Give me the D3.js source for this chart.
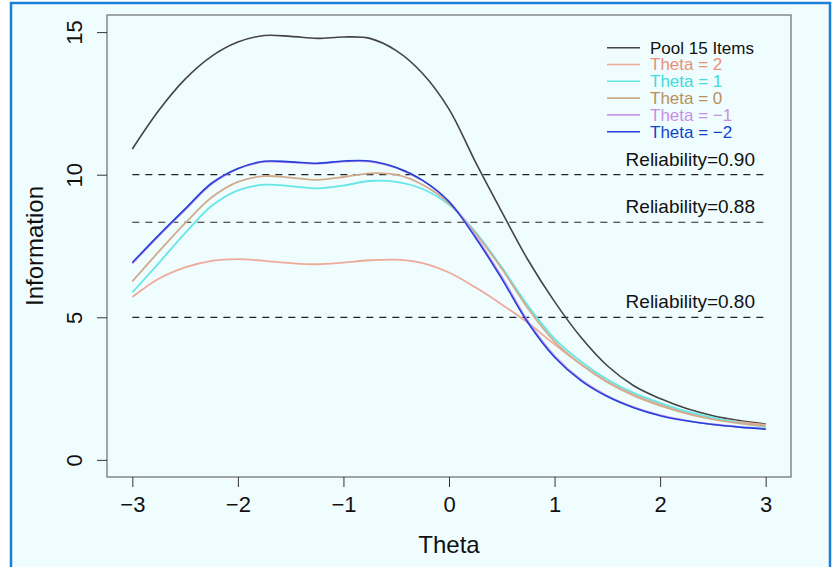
<!DOCTYPE html>
<html>
<head>
<meta charset="utf-8">
<script src="https://cdn.jsdelivr.net/npm/d3@7"></script>
<style>
  body { margin: 0; background: #fff; }
  svg { display: block; font-family: "Liberation Sans", Arial, sans-serif; }
</style>
</head>
<body>
<svg width="837" height="567"></svg>
<script>
var theta = [-3, -2.75, -2.5, -2.25, -2, -1.75, -1.5, -1.25, -1, -0.75, -0.5, -0.25,
             0, 0.25, 0.5, 0.75, 1, 1.25, 1.5, 1.75, 2, 2.25, 2.5, 2.75, 3];

var pool15 = [10.9, 12.25, 13.35, 14.15, 14.65, 14.88, 14.85, 14.78, 14.83, 14.78, 14.35, 13.55,
              12.3, 10.45, 8.7, 7.0, 5.55, 4.3, 3.3, 2.6, 2.15, 1.8, 1.55, 1.38, 1.26];
var thetaPos2 = [5.71, 6.35, 6.75, 6.98, 7.04, 6.98, 6.9, 6.86, 6.92, 7.0, 7.02, 6.9,
                 6.57, 6.05, 5.45, 4.8, 4.05, 3.35, 2.75, 2.3, 1.95, 1.66, 1.46, 1.33, 1.23];
var thetaPos1 = [5.87, 6.9, 7.95, 8.9, 9.45, 9.65, 9.6, 9.52, 9.62, 9.78, 9.75, 9.5,
                 8.95, 8.0, 6.75, 5.4, 4.25, 3.45, 2.82, 2.35, 2.0, 1.7, 1.48, 1.3, 1.15];
var theta0 = [6.26, 7.3, 8.3, 9.2, 9.75, 9.95, 9.9, 9.82, 9.92, 10.05, 10.0, 9.65,
              9.0, 7.95, 6.7, 5.3, 4.15, 3.35, 2.72, 2.25, 1.9, 1.62, 1.42, 1.28, 1.19];
var thetaNeg1 = [6.88, 7.85, 8.76, 9.66, 10.2, 10.45, 10.43, 10.38, 10.46, 10.46, 10.24, 9.8,
                 9.07, 7.85, 6.42, 4.85, 3.65, 2.82, 2.25, 1.85, 1.57, 1.38, 1.25, 1.16, 1.09];
var thetaNeg2 = [6.92, 7.88, 8.8, 9.7, 10.22, 10.47, 10.45, 10.4, 10.48, 10.48, 10.25, 9.8,
                 9.05, 7.8, 6.35, 4.8, 3.6, 2.78, 2.22, 1.83, 1.55, 1.37, 1.24, 1.15, 1.08];

var seriesNames = ["Pool 15 Items", "Theta = 2", "Theta = 1", "Theta = 0", "Theta = \u22121", "Theta = \u22122"];
var seriesValues = [pool15, thetaPos2, thetaPos1, theta0, thetaNeg1, thetaNeg2];
var lineColors = ["#444444", "#eeaa98", "#66e6e6", "#d0ac8c", "#c79be8", "#2540d8"];
var textColors = ["#111111", "#ec8f76", "#3edcdc", "#b8905e", "#c88fe6", "#0e45cc"];

var reliability = [0.90, 0.88, 0.80];

var xTicks = [-3, -2, -1, 0, 1, 2, 3];
var yTicks = [0, 5, 10, 15];

var svg = d3.select("svg");

// outer frame
svg.append("rect")
    .attr("x", 11).attr("y", 3)
    .attr("width", 819).attr("height", 580)
    .attr("fill", "#f0fdff")
    .attr("stroke", "#1a7fd6")
    .attr("stroke-width", 2.5);

var x = d3.scaleLinear().domain([-3.24, 3.24]).range([107, 791]);
var y = d3.scaleLinear().domain([-0.6, 15.6]).range([477, 15]);

// plot box
svg.append("rect")
    .attr("x", x(-3.24)).attr("y", y(15.6))
    .attr("width", x(3.24) - x(-3.24))
    .attr("height", y(-0.6) - y(15.6))
    .attr("fill", "none")
    .attr("stroke", "#777")
    .attr("stroke-width", 1.3);

// x axis
var xAxis = svg.append("g")
    .attr("transform", "translate(0," + y(-0.6) + ")")
    .call(d3.axisBottom(x).tickValues(xTicks).tickSize(10).tickPadding(9)
        .tickFormat(function(d) { return d < 0 ? "\u2212" + Math.abs(d) : d; }));
xAxis.select(".domain").remove();
xAxis.selectAll("line").attr("stroke", "#333");
xAxis.selectAll("text").attr("font-size", 22).attr("fill", "#111").attr("font-family", null);

// y axis (labels rotated like R)
var yAxis = svg.append("g")
    .attr("transform", "translate(" + x(-3.24) + ",0)")
    .call(d3.axisLeft(y).tickValues(yTicks).tickSize(10).tickFormat(d3.format("d")));
yAxis.select(".domain").remove();
yAxis.selectAll("line").attr("stroke", "#333");
yAxis.selectAll("text")
    .attr("x", null).attr("dy", null)
    .attr("font-size", 22).attr("fill", "#111").attr("font-family", null)
    .attr("text-anchor", "middle")
    .attr("transform", "translate(-25,0) rotate(-90)");

// axis titles
svg.append("text")
    .attr("x", x(0)).attr("y", 553)
    .attr("text-anchor", "middle")
    .attr("font-size", 24).attr("fill", "#111")
    .text("Theta");

svg.append("text")
    .attr("transform", "translate(43," + (y(-0.6) + y(15.6)) / 2 + ") rotate(-90)")
    .attr("text-anchor", "middle")
    .attr("font-size", 24).attr("fill", "#111")
    .text("Information");

// reliability reference lines
var relG = svg.append("g");
reliability.forEach(function(r) {
    var info = 1 / (1 - r);
    relG.append("line")
        .attr("x1", x(-3)).attr("x2", x(3))
        .attr("y1", y(info)).attr("y2", y(info))
        .attr("stroke", "#222")
        .attr("stroke-width", 1.2)
        .attr("stroke-dasharray", "7,6");
    relG.append("text")
        .attr("x", 755).attr("y", y(info) - 9)
        .attr("text-anchor", "end")
        .attr("font-size", 19).attr("fill", "#111")
        .text("Reliability=" + r.toFixed(2));
});

// information curves
var line = d3.line()
    .x(function(d) { return x(d[0]); })
    .y(function(d) { return y(d[1]); })
    .curve(d3.curveCatmullRom.alpha(0.5));

svg.append("g").selectAll("path")
    .data(seriesValues)
    .enter().append("path")
    .attr("d", function(vals) { return line(theta.map(function(t, i) { return [t, vals[i]]; })); })
    .attr("fill", "none")
    .attr("stroke", function(d, i) { return lineColors[i]; })
    .attr("stroke-width", function(d, i) { return i == 0 || i == 5 ? 1.6 : 1.8; });

// legend
var legend = svg.append("g").selectAll("g")
    .data(seriesNames)
    .enter().append("g")
    .attr("transform", function(d, i) { return "translate(607," + (47.7 + i * 16.8) + ")"; });

legend.append("line")
    .attr("x1", 0).attr("x2", 33)
    .attr("stroke", function(d, i) { return lineColors[i]; })
    .attr("stroke-width", 1.6);

legend.append("text")
    .attr("x", 43).attr("dy", "0.35em")
    .attr("font-size", 17)
    .attr("fill", function(d, i) { return textColors[i]; })
    .text(function(d) { return d; });
</script>
</body>
</html>
